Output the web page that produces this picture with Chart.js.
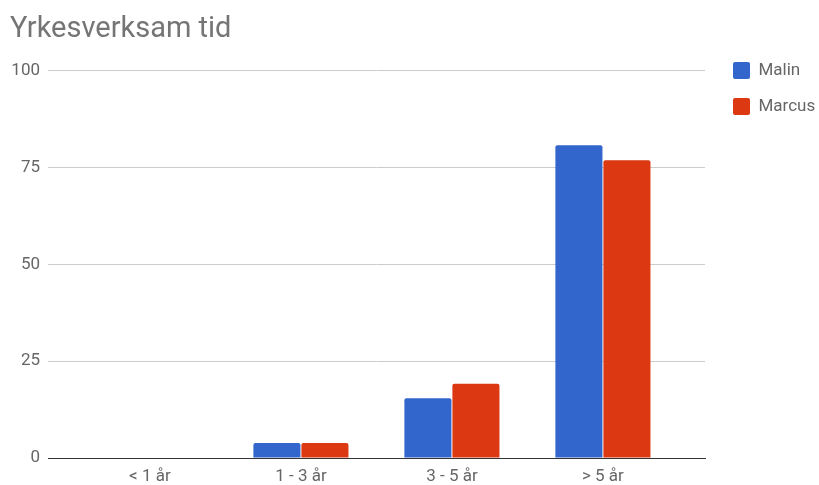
<!DOCTYPE html>
<html>
<head>
<meta charset="utf-8">
<script src="https://cdn.jsdelivr.net/npm/chart.js@4"></script>
<style>
	body { margin: 0; background: #fff; }
	#wrap { width: 819px; height: 485px; }
</style>
</head>
<body>
<div id="wrap"><canvas id="tidcanvas"></canvas></div>
<script>
var categories = ["< 1 år", "1 - 3 år", "3 - 5 år", "> 5 år"];
var malin = [0, 3.85, 15.4, 80.8];
var marcus = [0, 3.85, 19.2, 76.9];
var yTicks = [0, 25, 50, 75, 100];

// legend sits in a fixed slot on the right, like the original
var legendSlot = {
	id: 'legendSlot',
	beforeLayout: function(chart) {
		var lg = chart.legend;
		if (lg && !lg._slotted) {
			var fit = lg.fit;
			lg.fit = function() { fit.call(this); this.width = 114; };
			lg._slotted = true;
		}
	},
	afterLayout: function(chart) {
		var lg = chart.legend;
		var w = lg.width, h = lg.height;
		lg.left = 714; lg.right = 714 + w;
		lg.top = 43; lg.bottom = 43 + h;
	}
};

function points(values) {
	return values.map(function(v, i){ return { x: i, y: v }; });
}

window.onload = function(){
	var ctx = document.getElementById("tidcanvas").getContext("2d");
	Chart.defaults.font.family = "Roboto";
	window.myBar = new Chart(ctx, {
		type: 'bar',
		data: {
			datasets : [
				{ label : "Malin", backgroundColor: "#3366cc", data : points(malin), borderRadius: 2 },
				{ label : "Marcus", backgroundColor: "#dc3912", data : points(marcus), borderRadius: 2 }
			]
		},
		plugins: [legendSlot],
		options: {
			responsive: true,
			maintainAspectRatio: false,
			animation: false,
			categoryPercentage: 0.636,
			barPercentage: 0.98,
			layout: { padding: { left: 10, right: 0, top: 0, bottom: 0 } },
			scales: {
				x: {
					type: 'linear',
					offset: false,
					min: -0.675,
					max: 3.676,
					afterBuildTicks: function(axis){ axis.ticks = categories.map(function(c, i){ return { value: i }; }); },
					afterFit: function(axis){ axis.height = 27; },
					grid: { display: false, drawTicks: false },
					border: { color: "#333333", width: 1 },
					ticks: {
						color: "#666666", font: { size: 17 }, padding: 9, maxRotation: 0, autoSkip: false,
						callback: function(v){ return categories[v]; }
					}
				},
				y: {
					min: 0,
					max: 100,
					afterBuildTicks: function(axis){ axis.ticks = yTicks.map(function(v){ return { value: v }; }); },
					afterFit: function(axis){ axis.width = 38; },
					grid: {
						drawTicks: false,
						color: function(c){ return c.tick && c.tick.value === 0 ? 'rgba(0,0,0,0)' : '#cccccc'; }
					},
					border: { display: false },
					ticks: { color: "#666666", font: { size: 17 }, padding: 8 }
				}
			},
			plugins: {
				legend: {
					display: true,
					position: 'right',
					align: 'start',
					labels: { boxWidth: 17, boxHeight: 17, color: "#666666", font: { size: 17 }, padding: 19, useBorderRadius: true, borderRadius: 2 }
				},
				title: {
					display: true,
					text: 'Yrkesverksam tid',
					align: 'start',
					color: "#757575",
					font: { size: 29, weight: 'normal' },
					padding: { top: 12, bottom: 24 }
				},
				tooltip: { enabled: false }
			}
		}
	});
}
</script>
</body>
</html>
